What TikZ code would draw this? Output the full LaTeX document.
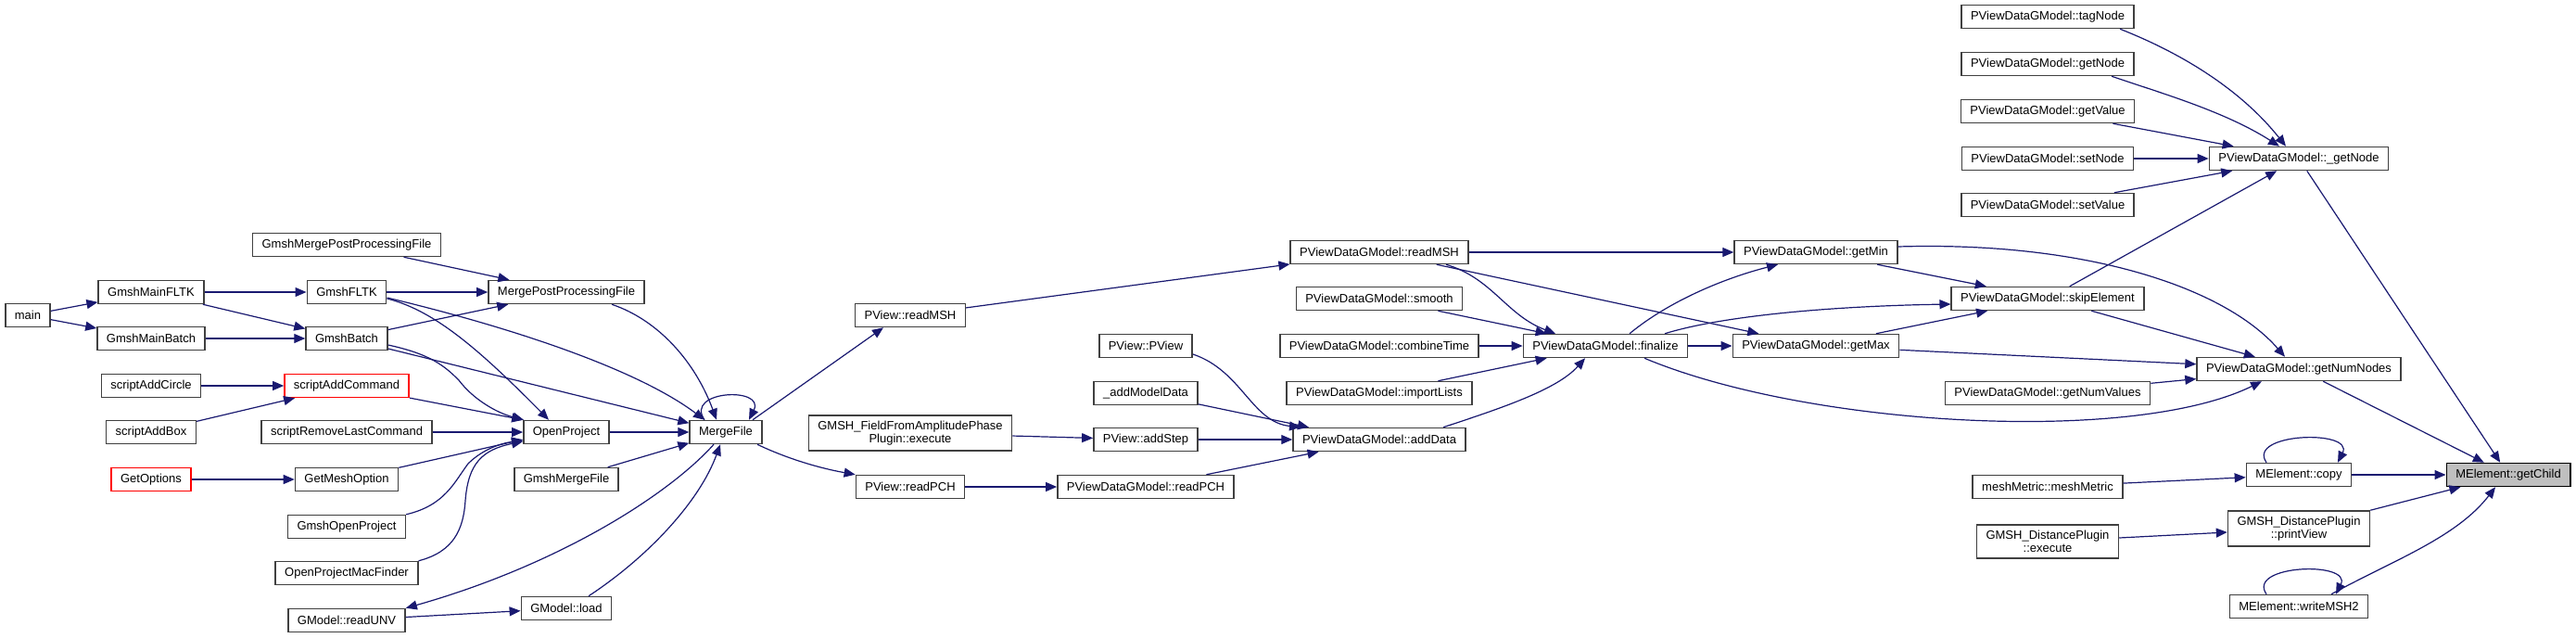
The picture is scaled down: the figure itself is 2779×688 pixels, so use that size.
\documentclass[tikz,border=0pt]{standalone}
\usepackage{fontspec}
\setmainfont{Liberation Sans}
\usetikzlibrary{arrows.meta}
\definecolor{edgeblue}{HTML}{191970}
\definecolor{boxgray}{HTML}{404040}
\definecolor{rootfill}{HTML}{BFBFBF}
\tikzset{
  fnbox/.style={draw=#1, line width=1.5pt, fill=white, minimum height=25pt,
    inner xsep=10pt, inner ysep=6pt, align=center,
    font=\fontsize{13}{14}\selectfont},
  fnbox/.default=boxgray,
  rootbox/.style={fnbox=black, fill=rootfill},
  call/.style={-{Triangle[length=12pt,width=10pt]}, draw=edgeblue, line width=1.2pt}
}
\newcommand{\selfcall}[3]{\draw[call] ([xshift=#2]#1.north) .. controls +(-22pt,32pt) and +(18pt,36pt) .. ([xshift=#3]#1.north);}

\begin{document}
\begin{tikzpicture}[x=1pt, y=-1pt]
  \useasboundingbox (0,0) rectangle (2779,688);

  \node[fnbox] (main) at (30,340) {main};
  \node[fnbox] (mainfltk) at (163,315) {GmshMainFLTK};
  \node[fnbox] (mainbatch) at (163,365) {GmshMainBatch};
  \node[fnbox] (addcircle) at (163,416) {scriptAddCircle};
  \node[fnbox] (addbox) at (163,466) {scriptAddBox};
  \node[fnbox=red] (getoptions) at (163,517) {GetOptions};

  \node[fnbox] (mergepp) at (374,264) {GmshMergePostProcessingFile};
  \node[fnbox] (gmshfltk) at (374,315) {GmshFLTK};
  \node[fnbox] (gmshbatch) at (374,365) {GmshBatch};
  \node[fnbox=red] (addcommand) at (374,416) {scriptAddCommand};
  \node[fnbox] (removelast) at (374,466) {scriptRemoveLastCommand};
  \node[fnbox] (meshoption) at (374,517) {GetMeshOption};
  \node[fnbox] (gmshopen) at (374,568) {GmshOpenProject};
  \node[fnbox] (macfinder) at (374,618) {OpenProjectMacFinder};
  \node[fnbox] (readunv) at (374,669) {GModel::readUNV};

  \node[fnbox] (mergeppfile) at (611,315) {MergePostProcessingFile};
  \node[fnbox] (openproject) at (611,466) {OpenProject};
  \node[fnbox] (gmshmerge) at (611,517) {GmshMergeFile};
  \node[fnbox] (gload) at (611,656) {GModel::load};
  \node[fnbox] (mergefile) at (783,466) {MergeFile};

  \node[fnbox] (pvreadmsh) at (982,340) {PView::readMSH};
  \node[fnbox] (ampphase) at (982,467) {GMSH\_FieldFromAmplitudePhase\\Plugin::execute};
  \node[fnbox] (pvreadpch) at (982,525) {PView::readPCH};
  \node[fnbox] (pview) at (1236,373) {PView::PView};
  \node[fnbox] (addmodel) at (1236,424) {\_addModelData};
  \node[fnbox] (addstep) at (1236,474) {PView::addStep};
  \node[fnbox] (dreadpch) at (1236,525) {PViewDataGModel::readPCH};

  \node[fnbox] (dreadmsh) at (1488,272) {PViewDataGModel::readMSH};
  \node[fnbox] (smooth) at (1488,322) {PViewDataGModel::smooth};
  \node[fnbox] (combine) at (1488,373) {PViewDataGModel::combineTime};
  \node[fnbox] (importlists) at (1488,424) {PViewDataGModel::importLists};
  \node[fnbox] (adddata) at (1488,474) {PViewDataGModel::addData};
  \node[fnbox] (finalize) at (1732,373) {PViewDataGModel::finalize};
  \node[fnbox] (getmin) at (1959,272) {PViewDataGModel::getMin};
  \node[fnbox] (getmax) at (1959,373) {PViewDataGModel::getMax};

  \node[fnbox] (tagnode) at (2209,18) {PViewDataGModel::tagNode};
  \node[fnbox] (getnode) at (2209,69) {PViewDataGModel::getNode};
  \node[fnbox] (getvalue) at (2209,120) {PViewDataGModel::getValue};
  \node[fnbox] (setnode) at (2209,171) {PViewDataGModel::setNode};
  \node[fnbox] (setvalue) at (2209,221) {PViewDataGModel::setValue};
  \node[fnbox] (skipelem) at (2209,322) {PViewDataGModel::skipElement};
  \node[fnbox] (numvalues) at (2209,424) {PViewDataGModel::getNumValues};
  \node[fnbox] (meshmetric) at (2209,525) {meshMetric::meshMetric};
  \node[fnbox] (distexec) at (2209,584) {GMSH\_DistancePlugin\\::execute};

  \node[fnbox] (nodeint) at (2480,171) {PViewDataGModel::\_getNode};
  \node[fnbox] (numnodes) at (2480,398) {PViewDataGModel::getNumNodes};
  \node[fnbox] (copy) at (2480,512) {MElement::copy};
  \node[fnbox] (printview) at (2480,570) {GMSH\_DistancePlugin\\::printView};
  \node[fnbox] (writemsh) at (2480,654) {MElement::writeMSH2};
  \node[rootbox] (getchild) at (2706,512) {MElement::getChild};

  % left part
  \draw[call] (main) -- (mainfltk);
  \draw[call] (main) -- (mainbatch);
  \draw[call] (mainfltk) -- (gmshfltk);
  \draw[call] (mainfltk) -- (gmshbatch);
  \draw[call] (mainbatch) -- (gmshbatch);
  \draw[call] (mergepp) -- (mergeppfile);
  \draw[call] (gmshfltk) -- (mergeppfile);
  \draw[call] (gmshbatch) -- (mergeppfile);
  \draw[call] ([yshift=-7pt]gmshfltk.east) .. controls (470,335) and (520,380) .. ([xshift=-19pt]openproject.north);
  \draw[call] ([yshift=-6pt]gmshfltk.east) .. controls (560,355) and (690,400) .. ([xshift=-23pt]mergefile.north);
  \draw[call] ([yshift=-7pt]gmshbatch.east) .. controls (465,382) and (480,395) .. (495,410)
    .. controls (510,430) and (535,445) .. ([xshift=-46pt]openproject.north);
  \draw[call] (gmshbatch) -- (mergefile);
  \draw[call] ([xshift=49pt]mergeppfile.south) .. controls (710,345) and (750,390) .. ([xshift=-10pt]mergefile.north);
  \draw[call] (addcircle) -- (addcommand);
  \draw[call] (addbox) -- (addcommand);
  \draw[call] (addcommand) -- (openproject.north west);
  \draw[call] (removelast) -- (openproject);
  \draw[call] (getoptions) -- (meshoption);
  \draw[call] (meshoption) -- ([yshift=-8pt]openproject.west);
  \draw[call] (gmshopen.north east) .. controls (480,545) and (490,520) .. (505,500)
    .. controls (520,485) and (540,478) .. ([yshift=-9pt]openproject.west);
  \draw[call] (macfinder.north east) .. controls (490,595) and (500,570) .. (502,540)
    .. controls (505,500) and (520,485) .. ([yshift=-10pt]openproject.west);
  \draw[call] (openproject) -- (mergefile);
  \draw[call] (gmshmerge) -- (mergefile);
  \draw[call] ([xshift=-13pt]mergefile.south) .. controls (720,535) and (600,610) .. (readunv.north east);
  \draw[call] (readunv) -- (gload);
  \draw[call] ([xshift=24pt]gload.north) .. controls (700,600) and (755,540) .. ([xshift=-6pt]mergefile.south);
  \selfcall{mergefile}{-23pt}{25pt}

  % middle part
  \draw[call] ([xshift=29pt]mergefile.north) -- ([xshift=-29pt]pvreadmsh.south);
  \draw[call] ([xshift=34pt]mergefile.south) .. controls (850,495) and (885,505) .. (pvreadpch.north west);
  \draw[call] (pvreadmsh) -- (dreadmsh);
  \draw[call] (pvreadpch) -- (dreadpch);
  \draw[call] (ampphase) -- (addstep);
  \draw[call] ([yshift=-9pt]pview.east) .. controls (1340,400) and (1350,455) .. ([xshift=-85pt]adddata.north);
  \draw[call] (addmodel) -- ([xshift=-76pt]adddata.north);
  \draw[call] (addstep) -- (adddata);
  \draw[call] (dreadpch) -- (adddata);
  \draw[call] (dreadmsh) -- (getmin);
  \draw[call] ([xshift=72pt]dreadmsh.south) .. controls (1610,300) and (1625,340) .. ([xshift=-54pt]finalize.north);
  \draw[call] (dreadmsh) -- (getmax);
  \draw[call] (smooth) -- (finalize);
  \draw[call] (combine) -- (finalize);
  \draw[call] (importlists) -- (finalize);
  \draw[call] ([xshift=69pt]adddata.north) .. controls (1620,440) and (1680,420) .. ([xshift=-22pt]finalize.south);
  \draw[call] ([xshift=26pt]finalize.north) .. controls (1800,325) and (1860,300) .. ([xshift=-41pt]getmin.south);
  \draw[call] (finalize) -- (getmax);
  \draw[call] ([xshift=64pt]finalize.north) .. controls (1860,340) and (1980,330) .. ([yshift=-6pt]skipelem.west);
  \draw[call] ([xshift=42pt]finalize.south) .. controls (1950,460) and (2300,480) .. ([xshift=-40pt]numnodes.south);

  % right part
  \draw[call] (getmin) -- (skipelem);
  \draw[call] (getmax) -- (skipelem);
  \draw[call] ([yshift=6pt]getmin.east) .. controls (2250,260) and (2400,310) .. ([xshift=-15pt]numnodes.north);
  \draw[call] (getmax) -- (numnodes);
  \draw[call] (skipelem) -- (numnodes);
  \draw[call] (skipelem) -- (nodeint);
  \draw[call] (numvalues) -- (numnodes);
  \draw[call] ([xshift=78pt]tagnode.south) .. controls (2360,60) and (2420,100) .. ([xshift=-14pt]nodeint.north);
  \draw[call] ([xshift=69pt]getnode.south) .. controls (2330,100) and (2400,120) .. ([xshift=-21pt]nodeint.north);
  \draw[call] (getvalue) -- (nodeint);
  \draw[call] (setnode) -- (nodeint);
  \draw[call] (setvalue) -- (nodeint);
  \draw[call] (nodeint) -- (getchild);
  \draw[call] (numnodes) -- (getchild);
  \draw[call] (copy) -- (getchild);
  \selfcall{copy}{-35pt}{42pt}
  \draw[call] (meshmetric) -- (copy);
  \draw[call] (distexec) -- (printview);
  \draw[call] (printview) -- (getchild);
  \draw[call] ([xshift=35pt]writemsh.north) .. controls (2580,605) and (2650,580) .. ([xshift=-14pt]getchild.south);
  \selfcall{writemsh}{-35pt}{40pt}
\end{tikzpicture}
\end{document}
